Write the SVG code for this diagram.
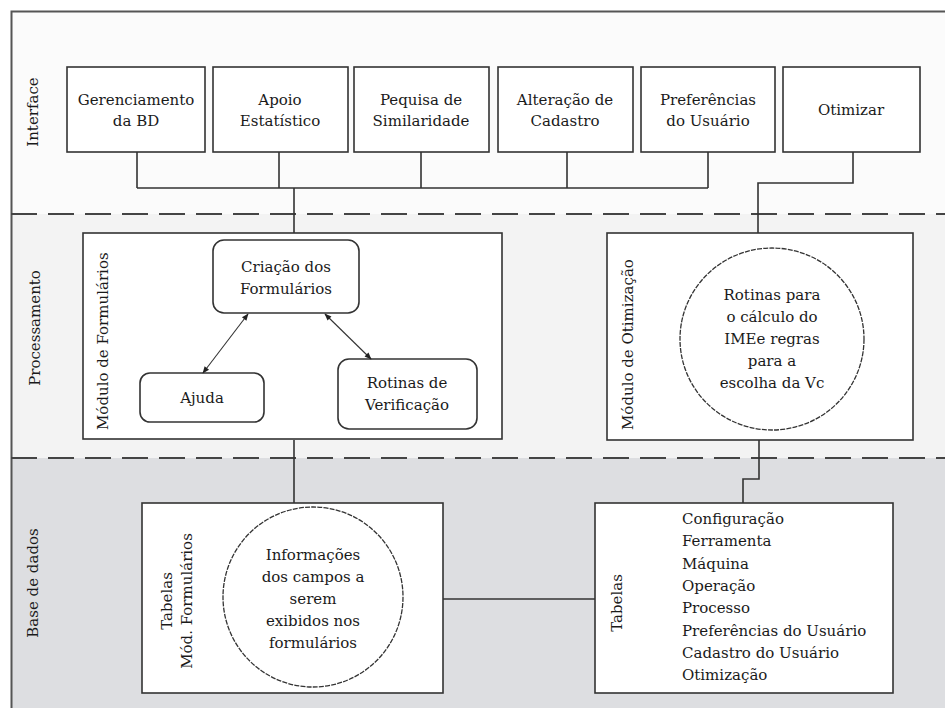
<svg xmlns="http://www.w3.org/2000/svg" width="945" height="708" viewBox="0 0 945 708">
<defs>
<style>
text{font-size:15px;fill:#1a1a1a}
.c{text-anchor:middle;dominant-baseline:central}
.v{dominant-baseline:central}
.box{fill:#fff;stroke:#333;stroke-width:1.6}
.conn{fill:none;stroke:#333;stroke-width:1.6}
.dash{stroke:#444;stroke-width:2;stroke-dasharray:26 11;fill:none}
.circ{fill:#fff;stroke:#333;stroke-width:1.3;stroke-dasharray:5 1.2}
.arr{stroke:#333;stroke-width:1.1;fill:none}
</style>
<marker id="ah" viewBox="0 0 10 10" refX="9" refY="5" markerWidth="8" markerHeight="7" orient="auto-start-reverse" markerUnits="userSpaceOnUse">
<path d="M0,1 L10,5 L0,9 z" fill="#222"/>
</marker>
</defs>
<rect x="0" y="0" width="945" height="708" fill="#fff"/>
<g font-family="DejaVu Serif">
<g id="lanes">
<rect x="11" y="11" width="934" height="203" fill="#fbfbfb"/>
<rect x="11" y="214" width="934" height="244" fill="#f3f3f3"/>
<rect x="11" y="458" width="934" height="250" fill="#dddee1"/>
<path d="M11.5,708 V11.5 H945" fill="none" stroke="#555" stroke-width="2"/>
<line class="dash" x1="11" y1="214" x2="945" y2="214"/>
<line class="dash" x1="11" y1="458" x2="945" y2="458"/>
<text class="c" transform="translate(33,112) rotate(-90)">Interface</text>
<text class="c" transform="translate(35,328) rotate(-90)">Processamento</text>
<text class="c" transform="translate(33,583) rotate(-90)">Base de dados</text>
</g>
<g id="n-gerenciamento"><rect class="box" x="67" y="67" width="138" height="85"/><text class="c" x="136" y="100">Gerenciamento</text><text class="c" x="136" y="121">da BD</text></g>
<g id="n-apoio"><rect class="box" x="213" y="67" width="135" height="85"/><text class="c" x="280" y="100">Apoio</text><text class="c" x="280" y="121">Estatístico</text></g>
<g id="n-pesquisa"><rect class="box" x="354" y="67" width="135" height="85"/><text class="c" x="421" y="100">Pequisa de</text><text class="c" x="421" y="121">Similaridade</text></g>
<g id="n-alteracao"><rect class="box" x="498" y="67" width="135" height="85"/><text class="c" x="565" y="100">Alteração de</text><text class="c" x="565" y="121">Cadastro</text></g>
<g id="n-preferencias"><rect class="box" x="641" y="67" width="134" height="85"/><text class="c" x="708" y="100">Preferências</text><text class="c" x="708" y="121">do Usuário</text></g>
<g id="n-otimizar"><rect class="box" x="783" y="67" width="137" height="85"/><text class="c" x="851" y="110">Otimizar</text></g>
<g id="n-modulo-formularios"><rect class="box" x="83" y="233" width="419" height="206"/><text class="v" transform="translate(103,430) rotate(-90)">Módulo de Formulários</text></g>
<g id="n-criacao"><rect class="box" x="213" y="240" width="146" height="73" rx="11"/><text class="c" x="286" y="267">Criação dos</text><text class="c" x="286" y="289">Formulários</text></g>
<g id="n-ajuda"><rect class="box" x="140" y="373" width="124" height="49" rx="10"/><text class="c" x="202" y="398">Ajuda</text></g>
<g id="n-rotinas-verif"><rect class="box" x="338" y="359" width="139" height="70" rx="11"/><text class="c" x="407" y="383">Rotinas de</text><text class="c" x="407" y="405">Verificação</text></g>
<g id="n-modulo-otimizacao"><rect class="box" x="607" y="233" width="306" height="207"/><text class="v" transform="translate(628,430) rotate(-90)">Módulo de Otimização</text>
<ellipse class="circ" cx="772" cy="339" rx="92" ry="91"/>
<text class="c" x="772" y="295">Rotinas para</text><text class="c" x="772" y="317">o cálculo do</text><text class="c" x="772" y="339">IMEe regras</text><text class="c" x="772" y="361">para a</text><text class="c" x="772" y="383">escolha da Vc</text></g>
<g id="n-tabelas-formularios"><rect class="box" x="142" y="503" width="301" height="190"/>
<text class="c" transform="translate(167,601) rotate(-90)">Tabelas</text><text class="c" transform="translate(187,601) rotate(-90)">Mód. Formulários</text>
<ellipse class="circ" cx="313" cy="597" rx="90" ry="90"/>
<text class="c" x="313" y="555">Informações</text><text class="c" x="313" y="577">dos campos a</text><text class="c" x="313" y="599">serem</text><text class="c" x="313" y="621">exibidos nos</text><text class="c" x="313" y="643">formulários</text></g>
<g id="n-tabelas"><rect class="box" x="595" y="503" width="298" height="190"/>
<text class="c" transform="translate(617,603) rotate(-90)">Tabelas</text>
<text class="v" x="682" y="519">Configuração</text><text class="v" x="682" y="541">Ferramenta</text><text class="v" x="682" y="564">Máquina</text><text class="v" x="682" y="586">Operação</text><text class="v" x="682" y="608">Processo</text><text class="v" x="682" y="631">Preferências do Usuário</text><text class="v" x="682" y="653">Cadastro do Usuário</text><text class="v" x="682" y="675">Otimização</text></g>
</g>
<g id="connectors">
<path class="conn" d="M137,152 V188 M279,152 V188 M421,152 V188 M567,152 V188 M708,152 V188 M137,188 H708 M294,188 V233"/>
<path class="conn" d="M853,152 V183 H758 V233"/>
<path class="conn" d="M294,440 V503"/>
<path class="conn" d="M759,440 V479 H743 V503"/>
<path class="conn" d="M443,599 H595"/>
<line class="arr" x1="248" y1="314" x2="203" y2="373" marker-start="url(#ah)" marker-end="url(#ah)"/>
<line class="arr" x1="325" y1="314" x2="371" y2="359" marker-start="url(#ah)" marker-end="url(#ah)"/>
</g>
</svg>
